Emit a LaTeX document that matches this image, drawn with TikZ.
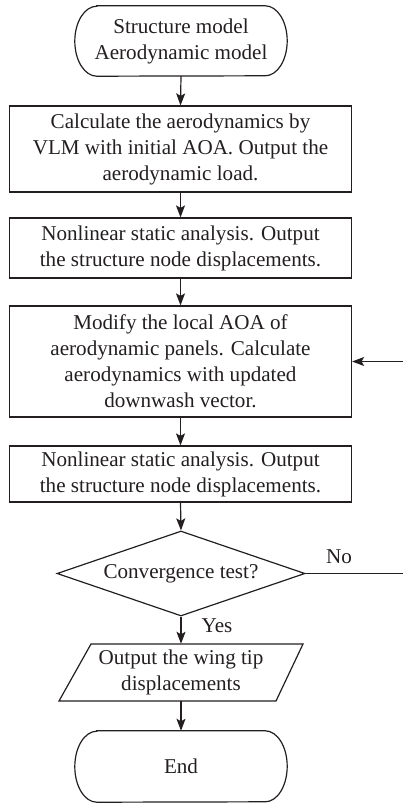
\documentclass[tikz,border=0pt]{standalone}
\usepackage{fontspec}
\setmainfont{Liberation Serif}
\usetikzlibrary{arrows.meta,shapes.geometric}
\definecolor{ink}{HTML}{231F20}
\begin{document}
\begin{tikzpicture}[x=1pt,y=-1pt,
  every node/.style={text=ink},
  txt/.style={font=\fontsize{21.1}{26}\selectfont, align=center, inner sep=0pt},
  procbox/.style={txt, draw=ink, line width=1.2pt, minimum width=342pt},
  conn/.style={draw=ink, line width=1.2pt, -{Stealth[length=12pt,width=9pt,inset=2.5pt]}},
  lbl/.style={font=\fontsize{21.1}{24}\selectfont, inner sep=0pt}
]
\useasboundingbox (0,0) rectangle (403,803);

% start terminator
\node[txt, minimum width=212pt, minimum height=70pt] (start) at (181,41) {Structure model\\Aerodynamic model};
\draw[ink, line width=1.2pt] ([xshift=22pt]start.north west) -- ([xshift=-22pt]start.north east)
  arc[start angle=90, end angle=-90, x radius=22pt, y radius=35pt]
  -- ([xshift=22pt]start.south west)
  arc[start angle=270, end angle=90, x radius=22pt, y radius=35pt] -- cycle;

\node[procbox, minimum height=86pt] (b1) at (180.5,149) {Calculate the aerodynamics by\\VLM with initial AOA. Output the\\aerodynamic load.};
\node[procbox, minimum height=60pt] (b2) at (180.5,248) {Nonlinear static analysis. Output\\the structure node displacements.};
\node[procbox, minimum height=111pt] (b3) at (180.5,361.5) {Modify the local AOA of\\aerodynamic panels. Calculate\\aerodynamics with updated\\downwash vector.};
\node[procbox, minimum height=56pt] (b4) at (180.5,474) {Nonlinear static analysis. Output\\the structure node displacements.};

\node[txt, shape=diamond, draw=ink, line width=1.2pt, aspect=2.92, minimum width=248pt, minimum height=85pt, inner sep=0pt] (dec) at (181,573.5) {Convergence test?};

% parallelogram
\node[txt, minimum width=180pt, minimum height=57pt] (para) at (181,672.5) {Output the wing tip\\displacements};
\draw[ink, line width=1.2pt] (91,644) -- (303,644) -- (276,701) -- (59,701) -- cycle;

% end terminator
\node[txt, minimum width=212pt, minimum height=71pt] (end) at (181,766.5) {End};
\draw[ink, line width=1.2pt] ([xshift=22pt]end.north west) -- ([xshift=-22pt]end.north east)
  arc[start angle=90, end angle=-90, x radius=22pt, y radius=35.5pt]
  -- ([xshift=22pt]end.south west)
  arc[start angle=270, end angle=90, x radius=22pt, y radius=35.5pt] -- cycle;

\draw[conn] (start.south) -- (b1.north);
\draw[conn] (b1.south) -- (b2.north);
\draw[conn] (b2.south) -- (b3.north);
\draw[conn] (b3.south) -- (b4.north);
\draw[conn] (b4.south) -- (dec.north);
\draw[conn] (dec.south) -- (para.north);
\draw[conn] (para.south) -- (end.north);

\coordinate (loop) at (410,573.5);
\draw[conn] (dec.east) -- (loop) |- (b3.east);

\node[lbl] (no) at (339,557) {No};
\node[lbl] (yes) at (217,626) {Yes};
\end{tikzpicture}
\end{document}
